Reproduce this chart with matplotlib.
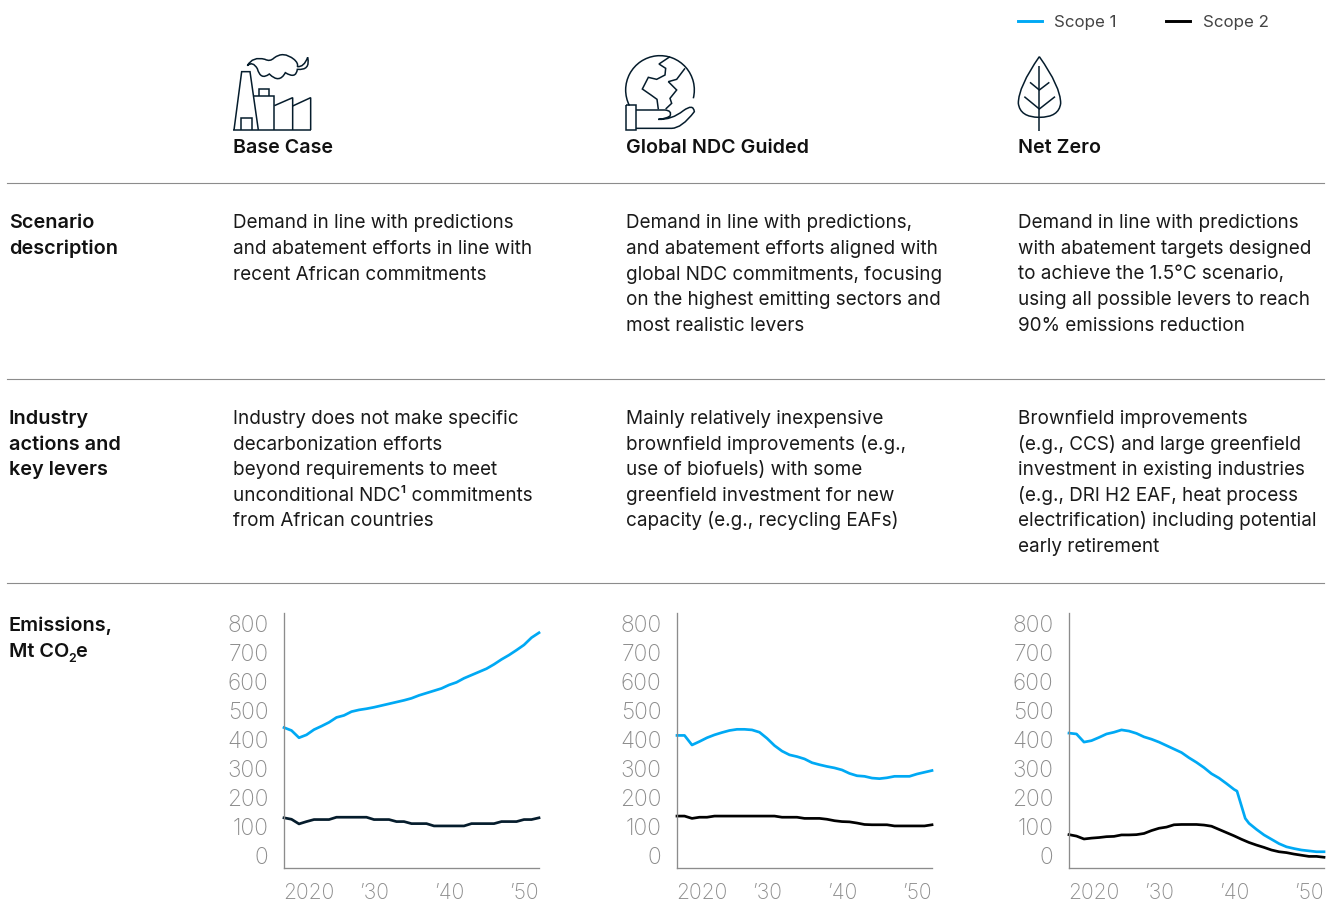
import matplotlib
matplotlib.use("Agg")
import matplotlib.pyplot as plt
from matplotlib.path import Path
from matplotlib.patches import PathPatch, Arc
from matplotlib.transforms import ScaledTranslation

W, H = 1330, 902
FONT = "Inter"
plt.rcParams["font.family"] = [FONT, "DejaVu Sans"]

# ---------- data ----------
years = list(range(2018, 2053))
base_s1 = [445,435,410,420,438,450,463,480,487,500,506,510,515,521,527,533,539,546,556,564,572,580,592,601,615,626,637,648,663,680,695,712,730,755,772]
base_s2 = [134,129,113,121,128,128,128,136,136,136,136,136,128,128,128,121,121,114,114,114,106,106,106,106,106,114,114,114,114,121,121,121,128,128,134]
ndc_s1 = [418,418,385,397,410,420,428,435,439,439,437,429,408,383,364,351,345,337,324,317,311,306,299,287,279,277,271,269,272,277,277,277,285,291,297]
ndc_s2 = [140,140,132,136,136,140,140,140,140,140,140,140,140,140,136,136,136,132,132,132,129,124,121,120,116,111,110,110,110,106,106,106,106,106,110]
nz_years_s1 = list(range(2018, 2041)) + [2040.4, 2041.5] + list(range(2042, 2053))
nz_s1 = [426,423,395,400,411,423,429,437,433,425,413,405,395,383,371,359,341,325,307,286,271,252,232,226,132,115,94,75,60,45,34,28,23,20,17,17]
nz_s2 = [76,71,61,64,66,69,70,75,75,76,80,90,98,102,110,111,111,111,109,105,94,83,72,60,49,40,32,23,17,14,9,5,1,1,-2]

y_ticks = [0,100,200,300,400,500,600,700,800]
x_ticks = [2020,2030,2040,2050]
x_labels = ["2020","\u201930","\u201940","\u201950"]

titles = ["Base Case","Global NDC Guided","Net Zero"]
col_x = [233,626,1018]
desc = [
 ["Demand in line with predictions","and abatement efforts in line with","recent African commitments"],
 ["Demand in line with predictions,","and abatement efforts aligned with","global NDC commitments, focusing","on the highest emitting sectors and","most realistic levers"],
 ["Demand in line with predictions","with abatement targets designed","to achieve the 1.5\u00b0C scenario,","using all possible levers to reach","90% emissions reduction"],
]
actions = [
 ["Industry does not make specific","decarbonization efforts","beyond requirements to meet","unconditional NDC\u00b9 commitments","from African countries"],
 ["Mainly relatively inexpensive","brownfield improvements (e.g.,","use of biofuels) with some","greenfield investment for new","capacity (e.g., recycling EAFs)"],
 ["Brownfield improvements","(e.g., CCS) and large greenfield","investment in existing industries","(e.g., DRI H2 EAF, heat process","electrification) including potential","early retirement"],
]
row_labels = {228:"Scenario",254:"description",424:"Industry",450:"actions and",475:"key levers",631:"Emissions,"}

CYAN = "#00A9F4"
NAVY = "#051C2C"
GREY = "#8C8C8C"
TICK = "#8C8C8C"
TXT = "#1A1A1A"

fig = plt.figure(figsize=(W/100, H/100), dpi=100, facecolor="white")
bg = fig.add_axes([0,0,1,1])
bg.set_xlim(0,W); bg.set_ylim(H,0); bg.axis("off")

BODY = 13.6
HEAD = 14.3
for x, ttl, d, a in zip(col_x, titles, desc, actions):
    bg.text(x,153,ttl,fontsize=14.15,fontweight="semibold",color="#111",va="baseline")
    for l,yy in zip(d,[228,254,279.5,305,331]):
        bg.text(x,yy,l,fontsize=BODY,color=TXT,va="baseline")
    for l,yy in zip(a,[424,450,475,501,526,552]):
        bg.text(x,yy,l,fontsize=BODY,color=TXT,va="baseline")
for yy,l in row_labels.items():
    bg.text(9,yy,l,fontsize=HEAD,fontweight="semibold",color="#111",va="baseline")
bg.text(9,657,"Mt CO",fontsize=HEAD,fontweight="semibold",color="#111",va="baseline")
bg.text(68,662,"2",fontsize=9,fontweight="semibold",color="#111",va="baseline")
bg.text(75.5,657,"e",fontsize=HEAD,fontweight="semibold",color="#111",va="baseline")
for yy in [183,379,583]:
    bg.plot([7,1324],[yy,yy],color=GREY,lw=0.8)

# ---------- icons ----------
IC = dict(color=NAVY,lw=1.1,solid_joinstyle="miter",solid_capstyle="butt")
def poly(ox,oy,pts):
    bg.plot([ox+p[0]/3 for p in pts],[oy+p[1]/3 for p in pts],**IC)
def curve(ox,oy,pts):
    v=[(ox+p[0]/3,oy+p[1]/3) for p in pts]
    codes=[Path.MOVETO]+[Path.CURVE3]*(len(v)-1)
    bg.add_patch(PathPatch(Path(v,codes),fc="none",ec=NAVY,lw=1.1))
# factory
o=(220,40)
poly(*o,[(40,270),(272,270)])
poly(*o,[(42,270),(65,95),(90,95),(115,270)])
poly(*o,[(62,270),(62,233),(95,233),(95,270)])
poly(*o,[(100,168),(163,168),(163,270)])
poly(*o,[(118,168),(118,147),(148,147),(148,168)])
poly(*o,[(163,197),(218,173),(218,270)])
poly(*o,[(218,198),(272,173),(272,270)])
curve(*o,[(82,77),(98,48),(135,58),(150,66),(162,54),(190,32),(222,58),(236,70),(232,80),(252,82),(263,52),(272,92),(232,88),(228,118),(196,98),(178,132),(148,102),(122,122),(112,86),(98,62),(82,77)])
# globe
o=(615,40)
bg.add_patch(Arc((o[0]+135/3,o[1]+150/3),206/3,206/3,angle=0,theta1=153,theta2=374,ec=NAVY,lw=1.1))
poly(*o,[(33,195),(63,195),(63,270),(33,270),(33,195)])
curve(*o,[(63,210),(110,210),(150,210),(172,212),(165,228),(150,238),(130,238),(170,240),(205,212),(235,190),(238,215),(200,265),(170,265),(120,265),(63,265)])
poly(*o,[(130,208),(126,178),(108,165),(82,147),(100,112),(125,118),(150,105),(152,85),(132,72),(165,50)])
poly(*o,[(210,85),(185,118),(160,125),(185,150),(165,175),(170,190),(152,207)])
# leaf
o=(1005,0)
curve(*o,[(103,170),(40,260),(40,310),(45,352),(103,352),(162,352),(167,310),(167,260),(103,170)])
poly(*o,[(103,198),(103,392)])
poly(*o,[(75,247),(103,270),(133,247)])
poly(*o,[(58,290),(103,327),(150,290)])

# ---------- charts ----------
panels = [
 (284, years, base_s1, years, base_s2, NAVY),
 (677, years, ndc_s1, years, ndc_s2, "black"),
 (1069, nz_years_s1, nz_s1, years, nz_s2, "black"),
]
for left,x1,y1,x2,y2,c2 in panels:
    ax = fig.add_axes([left/W, 1-868/H, 255/W, 255/H])
    ax.patch.set_alpha(0)
    ax.plot(x1,y1,color=CYAN,lw=1.95,solid_joinstyle="round",clip_on=False)
    ax.plot(x2,y2,color=c2,lw=1.95,solid_joinstyle="round",clip_on=False)
    ax.set_xlim(2018,2052); ax.set_ylim(-39,840)
    for s in ["top","right"]: ax.spines[s].set_visible(False)
    for s in ["left","bottom"]:
        ax.spines[s].set_color(GREY); ax.spines[s].set_linewidth(0.95)
    ax.set_yticks(y_ticks); ax.set_xticks(x_ticks); ax.set_xticklabels(x_labels)
    ax.tick_params(length=0,labelsize=15.2,labelcolor=TICK)
    ax.tick_params(axis="y",pad=11.2,labelsize=16.4); ax.tick_params(axis="x",pad=10.8)
    for lab in ax.get_xticklabels()+ax.get_yticklabels():
        lab.set_fontweight("light")
    for lab in ax.get_yticklabels():
        lab.set_transform(lab.get_transform()+ScaledTranslation(0,1/100,fig.dpi_scale_trans))
    lab=ax.get_xticklabels()[0]
    lab.set_transform(lab.get_transform()+ScaledTranslation(10/100,0,fig.dpi_scale_trans))

# legend
h1=plt.Line2D([],[],color=CYAN,lw=2.1)
h2=plt.Line2D([],[],color="black",lw=2.1)
leg=fig.legend([h1,h2],["Scope 1","Scope 2"],loc="center left",bbox_to_anchor=(1018/W,1-22/H),
    bbox_transform=fig.transFigure,ncol=2,frameon=False,fontsize=12.2,
    borderpad=0,borderaxespad=0,handlelength=24*0.72/12.2,handletextpad=0.72,columnspacing=2.93)
for t in leg.get_texts(): t.set_color("#444")

fig.savefig("out.png",dpi=100,facecolor="white")
